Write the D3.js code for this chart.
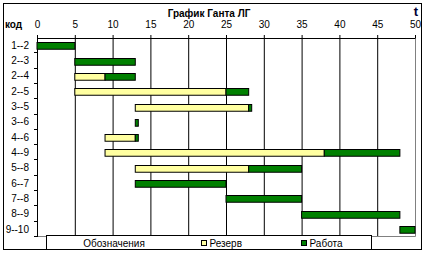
<!DOCTYPE html>
<html>
<head>
<meta charset="utf-8">
<script src="https://cdn.jsdelivr.net/npm/d3@7"></script>
<style>
  body { margin: 0; background: #fff; }
  text { font-family: "Liberation Sans", Arial, sans-serif; }
</style>
</head>
<body>
<svg id="chart"></svg>
<script>
// data
const codes = ['1--2', '2--3', '2--4', '2--5', '3--5', '3--6', '4--6', '4--9', '5--8', '6--7', '7--8', '8--9', '9--10'];
const starts = [0, 5, 5, 5, 13, 13, 9, 9, 13, 13, 25, 35, 48];
const reserves = [0, 0, 4, 20, 15, 0, 4, 29, 15, 0, 0, 0, 0];
const works = [5, 8, 4, 3, 0.4, 0.4, 0.4, 10, 7, 12, 10, 13, 2];
const xTicks = [0, 5, 10, 15, 20, 25, 30, 35, 40, 45, 50];
const legendItems = ['Резерв', 'Работа'];

const width = 427, height = 254;
const colors = { reserve: '#ffffa0', work: '#008000' };

const svg = d3.select('#chart')
  .attr('width', width)
  .attr('height', height);

// outer frame
svg.append('rect')
  .attr('x', 3.5).attr('y', 3.5)
  .attr('width', 418).attr('height', 246)
  .attr('fill', '#fff')
  .attr('stroke', '#000');

const x = d3.scaleLinear().domain([0, 50]).range([37, 415]);
const y = d3.scaleBand().domain(codes).range([38, 237]);

// plot area border (grey right/bottom)
svg.append('path')
  .attr('d', 'M' + x(0) + ',236.5H' + (x(50) + 0.5) + 'V38')
  .attr('fill', 'none')
  .attr('stroke', '#808080');

// vertical grid lines
svg.append('g')
  .attr('class', 'grid')
  .attr('transform', 'translate(0, 38)')
  .call(d3.axisBottom(x).tickValues(xTicks.slice(1, -1)).tickSize(198).tickFormat(''))
  .call(g => g.select('.domain').remove())
  .selectAll('line').attr('stroke', '#000');

// top axis
svg.append('g')
  .attr('class', 'x axis')
  .attr('transform', 'translate(0, 38)')
  .call(d3.axisTop(x).tickValues(xTicks).tickSize(3).tickSizeOuter(0).tickPadding(7))
  .call(g => g.selectAll('text').attr('font-size', 10).attr('fill', '#000'));

// left axis labels
svg.append('g')
  .attr('class', 'y axis')
  .attr('transform', 'translate(' + x(0) + ', 0)')
  .call(d3.axisLeft(y).tickSize(0).tickPadding(8))
  .call(g => g.select('.domain').remove())
  .call(g => g.selectAll('text').attr('font-size', 10).attr('fill', '#000'));

// left axis line and ticks at band boundaries
const bounds = codes.map(c => y(c)).concat([y.range()[1]]);
svg.append('line')
  .attr('x1', x(0) + 0.5).attr('x2', x(0) + 0.5)
  .attr('y1', 38).attr('y2', 237)
  .attr('stroke', '#000');
svg.selectAll('.ytick')
  .data(bounds.slice(1))
  .enter()
  .append('line')
  .attr('class', 'ytick')
  .attr('x1', x(0) - 3).attr('x2', x(0) + 0.5)
  .attr('y1', d => Math.round(d) - 0.5)
  .attr('y2', d => Math.round(d) - 0.5)
  .attr('stroke', '#000');

// bars
const rows = codes.map((c, i) => ({ code: c, start: starts[i], reserve: reserves[i], work: works[i] }));
const barH = y.bandwidth() * 0.44;
const barY = d => Math.round(y(d.code) + (y.bandwidth() - barH) / 2) + 0.5;

svg.selectAll('.reserve')
  .data(rows.filter(d => d.reserve > 0))
  .enter()
  .append('rect')
  .attr('class', 'reserve')
  .attr('x', d => x(d.start))
  .attr('y', barY)
  .attr('width', d => x(d.start + d.reserve) - x(d.start))
  .attr('height', barH)
  .attr('fill', colors.reserve)
  .attr('stroke', '#000');

svg.selectAll('.work')
  .data(rows)
  .enter()
  .append('rect')
  .attr('class', 'work')
  .attr('x', d => x(d.start + d.reserve))
  .attr('y', barY)
  .attr('width', d => x(d.start + d.reserve + d.work) - x(d.start + d.reserve))
  .attr('height', barH)
  .attr('fill', colors.work)
  .attr('stroke', '#000');

// titles
svg.append('text')
  .attr('x', 209).attr('y', 17)
  .attr('text-anchor', 'middle')
  .attr('font-size', 10).attr('font-weight', 'bold')
  .text('График Ганта ЛГ');

svg.append('text')
  .attr('x', 5).attr('y', 28)
  .attr('font-size', 10).attr('font-weight', 'bold')
  .text('код');

svg.append('text')
  .attr('x', 416).attr('y', 16)
  .attr('text-anchor', 'middle')
  .attr('font-size', 13).attr('font-weight', 'bold')
  .attr('fill', '#000033')
  .text('t');

// legend
const legend = svg.append('g').attr('class', 'legend');
legend.append('rect')
  .attr('x', 46.5).attr('y', 235.5)
  .attr('width', 325).attr('height', 14)
  .attr('fill', '#fff')
  .attr('stroke', '#000');
legend.append('text')
  .attr('x', 114).attr('y', 246.5)
  .attr('text-anchor', 'middle')
  .attr('font-size', 10)
  .text('Обозначения');

const legendX = [201.5, 301.5];
const legendColors = [colors.reserve, colors.work];
legendItems.forEach((name, i) => {
  legend.append('rect')
    .attr('x', legendX[i]).attr('y', 240.5)
    .attr('width', 5).attr('height', 5)
    .attr('fill', legendColors[i])
    .attr('stroke', '#000');
  legend.append('text')
    .attr('x', legendX[i] + 8).attr('y', 246.5)
    .attr('font-size', 10)
    .text(name);
});
</script>
</body>
</html>
